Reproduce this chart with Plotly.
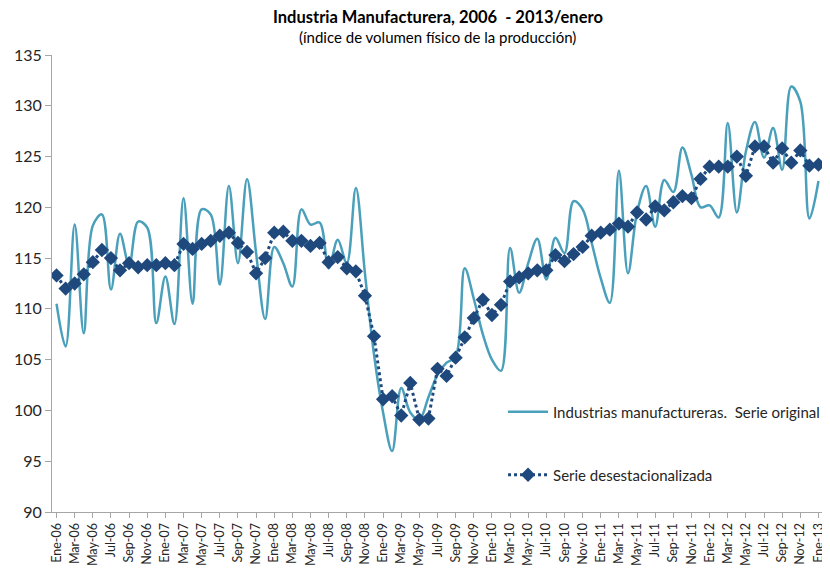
import plotly.graph_objects as go

# monthly categories, Ene-06 .. Ene-13
mes = ['Ene', 'Feb', 'Mar', 'Abr', 'May', 'Jun', 'Jul', 'Ago', 'Sep', 'Oct', 'Nov', 'Dic']
months = [f'{m}-{y:02d}' for y in range(6, 13) for m in mes] + ['Ene-13']

original = [
    110.5, 106.3, 118.3, 107.6, 118.2, 119.3, 111.9, 117.4, 114.3, 118.6, 118.0, 108.6,
    113.2, 108.5, 120.9, 110.5, 119.8, 119.3, 112.4, 122.1, 114.5, 122.8, 115.5, 109.0,
    116.1, 114.5, 112.2, 119.8, 118.3, 118.5, 114.0, 116.8, 114.5, 121.9, 113.5, 105.5,
    99.8, 96.0, 102.2, 99.8, 99.1, 101.3, 103.5, 104.7, 105.3, 114.0, 111.0, 107.5,
    105.0, 103.9, 116.0, 111.6, 114.5, 116.9, 112.9, 117.0, 115.5, 120.6, 119.8, 116.5,
    113.0, 110.6, 123.6, 113.5, 119.5, 122.1, 118.1, 122.7, 121.5, 125.9, 123.2, 120.0,
    120.2, 119.0, 128.3, 119.5, 125.5, 128.4, 124.9, 127.8, 123.7, 131.9, 130.4, 118.9,
    122.6,
]

desestacionalizada = [
    113.3, 112.0, 112.5, 113.4, 114.6, 115.8, 115.0, 113.8, 114.5, 114.1, 114.3, 114.3,
    114.5, 114.3, 116.4, 115.9, 116.4, 116.7, 117.2, 117.5, 116.5, 115.6, 113.5, 115.0,
    117.5, 117.6, 116.7, 116.7, 116.2, 116.5, 114.6, 115.1, 114.0, 113.7, 111.3, 107.3,
    101.1, 101.4, 99.5, 102.7, 99.1, 99.2, 104.1, 103.4, 105.2, 107.2, 109.1, 110.9,
    109.4, 110.4, 112.7, 113.1, 113.5, 113.8, 113.8, 115.3, 114.7, 115.4, 116.1, 117.2,
    117.5, 117.8, 118.4, 118.1, 119.5, 118.8, 120.1, 119.7, 120.5, 121.1, 120.9, 122.8,
    124.0, 124.0, 124.0, 125.0, 123.1, 126.0, 126.0, 124.4, 125.8, 124.4, 125.6, 124.1,
    124.2,
]

FONT = "Lato"
TXT = '#262626'

fig = go.Figure()

fig.add_trace(go.Scatter(
    x=months, y=original,
    mode='lines',
    name='Industrias manufactureras.  Serie original',
    line=dict(color='#4a9fba', width=2.5, shape='spline', smoothing=1.0),
    legend='legend',
))

fig.add_trace(go.Scatter(
    x=months, y=desestacionalizada,
    mode='lines+markers',
    name='Serie desestacionalizada',
    line=dict(color='#1f497d', width=3, dash='dot'),
    marker=dict(symbol='diamond', size=11, color='#1f497d'),
    legend='legend2',
))

# page body adds an 8px margin, so the figure is 8px smaller than the window
fig.update_layout(
    width=822, height=573,
    paper_bgcolor='white',
    plot_bgcolor='white',
    margin=dict(l=44, r=5, t=47, b=69),
    font=dict(family=FONT, size=13, color=TXT),
    showlegend=True,
    legend=dict(x=0.585, y=0.219, xanchor='left', yanchor='middle',
                bgcolor='rgba(0,0,0,0)', font=dict(size=15, color=TXT),
                itemwidth=40),
    legend2=dict(x=0.585, y=0.081, xanchor='left', yanchor='middle',
                 bgcolor='rgba(0,0,0,0)', font=dict(size=15, color=TXT),
                 itemwidth=40),
)

fig.update_xaxes(
    type='category',
    range=[-0.5, len(months) - 0.5],
    tickmode='array',
    tickvals=months[::2],
    ticktext=months[::2],
    tickangle=-90,
    tickfont=dict(size=12.5, color=TXT),
    ticks='outside', ticklen=5, tickcolor='#a6a6a6',
    showline=True, linecolor='#a6a6a6', linewidth=1,
    showgrid=False, zeroline=False,
)

fig.update_yaxes(
    range=[90, 135],
    tickvals=list(range(90, 136, 5)),
    tickfont=dict(size=16, color=TXT),
    ticks='outside', ticklen=6, tickcolor='#a6a6a6',
    showline=True, linecolor='#a6a6a6', linewidth=1,
    showgrid=False, zeroline=False,
)

fig.add_annotation(
    text='<b>Industria Manufacturera, 2006  - 2013/enero</b>',
    xref='paper', yref='paper', x=0.5, y=1, yshift=38,
    xanchor='center', yanchor='middle', showarrow=False,
    font=dict(family=FONT, size=16.5, color='#000000'),
)
fig.add_annotation(
    text='(índice de volumen físico de la producción)',
    xref='paper', yref='paper', x=0.5, y=1, yshift=18,
    xanchor='center', yanchor='middle', showarrow=False,
    font=dict(family=FONT, size=15, color='#000000'),
)

fig.write_html("out.html")
